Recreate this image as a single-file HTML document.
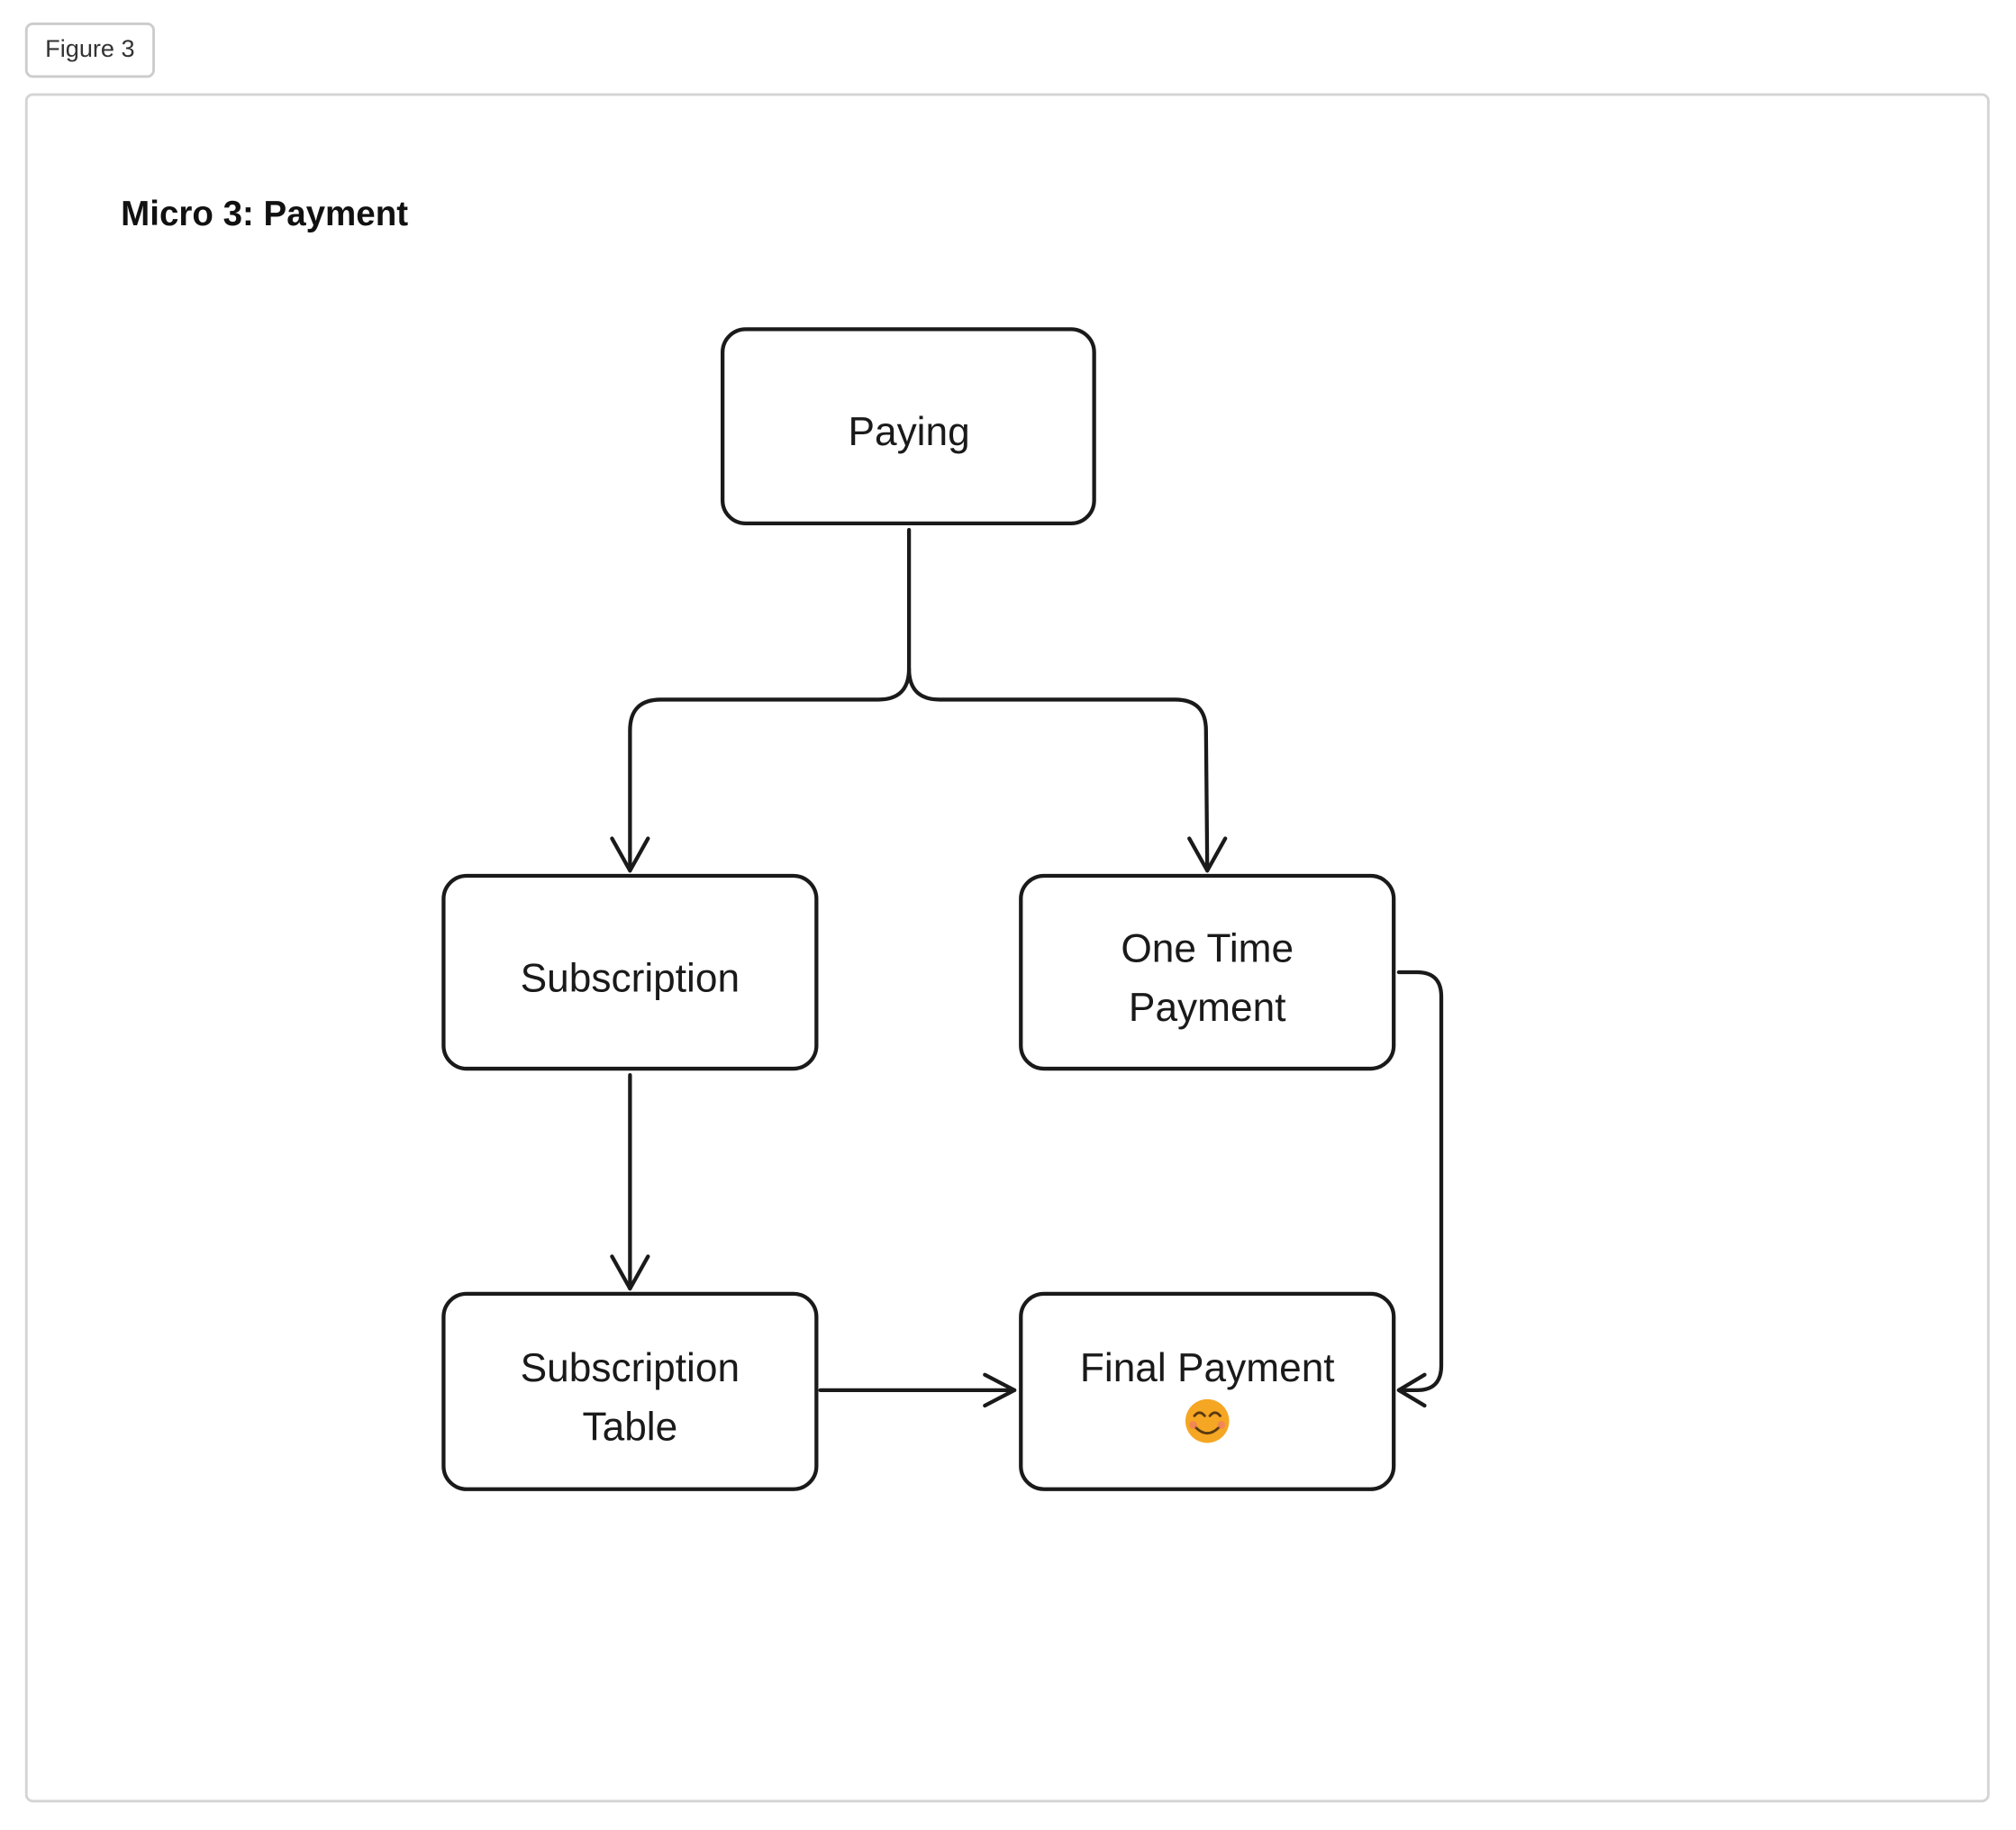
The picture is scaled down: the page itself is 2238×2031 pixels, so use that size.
<!DOCTYPE html>
<html><head><meta charset="utf-8"><style>
html,body{margin:0;padding:0;background:#fff;}
svg{display:block;}
</style></head><body>
<svg width="2238" height="2031" viewBox="0 0 1568 1423" preserveAspectRatio="none" xmlns="http://www.w3.org/2000/svg">
<rect x="20.5" y="18.5" width="99" height="41" rx="5" fill="#fff" stroke="#ccc" stroke-width="2"/>
<text x="70" y="44" font-family="Liberation Sans, sans-serif" font-size="19" fill="#333" text-anchor="middle">Figure 3</text>
<rect x="20.5" y="73.5" width="1526" height="1327" rx="5" fill="#fff" stroke="#d4d4d4" stroke-width="2"/>
<text x="94" y="175" font-family="Liberation Sans, sans-serif" font-size="27" font-weight="bold" fill="#111">Micro 3: Payment</text>
<g fill="#fff" stroke="#1a1a1a" stroke-width="3" stroke-linecap="round" stroke-linejoin="round">
<rect x="562" y="256" width="289" height="151" rx="18"/>
<rect x="345" y="681" width="290" height="150" rx="18"/>
<rect x="794" y="681" width="290" height="150" rx="18"/>
<rect x="345" y="1006" width="290" height="152" rx="18"/>
<rect x="794" y="1006" width="290" height="152" rx="18"/>
</g>
<g fill="none" stroke="#1a1a1a" stroke-width="3" stroke-linecap="round" stroke-linejoin="round">
<path d="M707 412 L707 520 Q707 544 683 544 L514 544 Q490 544 490 568 L490 677"/>
<path d="M707 520 Q707 544 731 544 L914 544 Q938 544 938 568 L939 677"/>
<path d="M476 652 L490 677 L504 652"/>
<path d="M925 652 L939 677 L953 652"/>
<path d="M490 836 L490 1002"/>
<path d="M476 977 L490 1002 L504 977"/>
<path d="M638 1081 L789 1081"/>
<path d="M766 1069 L789 1081 L766 1093"/>
<path d="M1088 756 L1102 756 Q1121 756 1121 775 L1121 1062 Q1121 1081 1102 1081 L1088 1081"/>
<path d="M1108 1069 L1088 1081 L1108 1093"/>
</g>
<g font-family="Liberation Sans, sans-serif" font-size="31" fill="#1a1a1a" text-anchor="middle">
<text x="707" y="346">Paying</text>
<text x="490" y="771">Subscription</text>
<text x="939" y="748">One Time</text>
<text x="939" y="794">Payment</text>
<text x="490" y="1074">Subscription</text>
<text x="490" y="1120">Table</text>
<text x="939" y="1074">Final Payment</text>
</g>
<circle cx="939" cy="1105" r="17" fill="#f5a623"/>
<path d="M929 1101 q4 -5 8 0 M941 1101 q4 -5 8 0" fill="none" stroke="#5a3a10" stroke-width="2" stroke-linecap="round"/>
<path d="M930 1110 q9 9 18 0" fill="none" stroke="#5a3a10" stroke-width="2" stroke-linecap="round"/>
<circle cx="928" cy="1108" r="3" fill="#f07a6a" opacity="0.7"/>
<circle cx="950" cy="1108" r="3" fill="#f07a6a" opacity="0.7"/>
</svg>
</body></html>
